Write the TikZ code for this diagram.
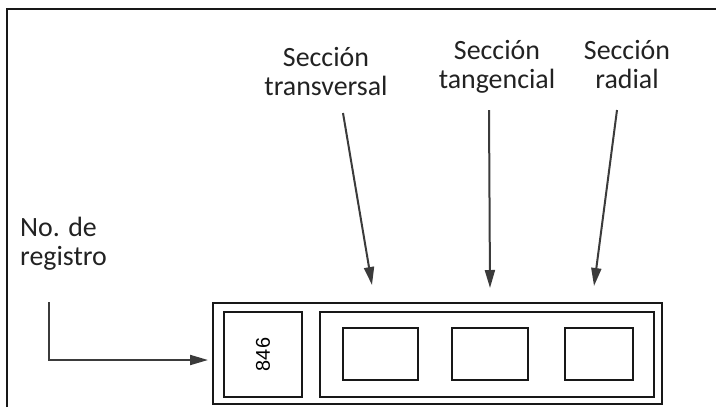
\documentclass[tikz,border=0pt]{standalone}
\usepackage{fontspec}
\setmainfont{Carlito}
\newfontfamily\numfont{Liberation Sans}
\usetikzlibrary{arrows.meta}
\definecolor{ink}{HTML}{181818}
\definecolor{labelink}{HTML}{222222}
\begin{document}
\begin{tikzpicture}[x=1bp,y=-1bp,
  frameline/.style={draw=ink,line width=2bp},
  slot/.style={draw=ink,line width=2.5bp,rectangle,inner sep=0pt},
  pointer/.style={draw=ink!85,line width=2bp,-{Triangle[length=18bp,width=10bp]}},
  caption/.style={align=center,font=\fontsize{28}{29}\selectfont,text=labelink,inner sep=0pt}]
\useasboundingbox (0,0) rectangle (716,407);
% page frame (top and left edges only)
\draw[frameline] (7,407) -- (7,9) -- (716,9);

% card with the register number and the three section slots
\node[slot,minimum width=449bp,minimum height=101bp] (card) at (437.5,353.5) {};
\node[slot,minimum width=78bp,minimum height=85bp] (num) at (263,354.5)
  {\rotatebox{90}{\numfont\fontsize{20}{20}\selectfont 846}};
\node[slot,minimum width=334bp,minimum height=85bp] (group) at (487,354.5) {};
\node[slot,minimum width=75bp,minimum height=52bp] (trans) at (380.5,354) {};
\node[slot,minimum width=76bp,minimum height=52bp] (tang) at (490,354) {};
\node[slot,minimum width=68bp,minimum height=52bp] (rad) at (599,354) {};

% labels
\node[caption,anchor=north] (ltrans) at (326,47) {Sección\\transversal};
\node[caption,anchor=north] (ltang) at (497,40) {Sección\\tangencial};
\node[caption,anchor=north] (lrad) at (627,40) {Sección\\radial};
\node[caption,align=left,anchor=north west] (lreg) at (20,217) {No. de\\registro};

% pointer arrows
\coordinate (ts) at (343,113);  \coordinate (te) at (372,285);
\coordinate (gs) at (489,110);  \coordinate (ge) at (490,288);
\coordinate (rs) at (617,110);  \coordinate (re) at (594,286);
\draw[pointer] (ts) -- (te);
\draw[pointer] (gs) -- (ge);
\draw[pointer] (rs) -- (re);

\coordinate (regs) at (49,302);
\coordinate (rege) at (208,360);
\draw[pointer] (regs) |- (rege);
\end{tikzpicture}
\end{document}
